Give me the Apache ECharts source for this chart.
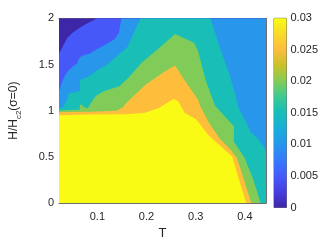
<!DOCTYPE html>
<html><head><meta charset="utf-8">
<script src="https://cdn.jsdelivr.net/npm/echarts@6/dist/echarts.min.js"></script>
<style>html,body{margin:0;padding:0;background:#fff}#c{width:327px;height:245px}</style>
</head><body><div id="c"></div>
<script>
// ---- data ----
const tRange = [0.022, 0.443];
const hRange = [0, 2];
const xTicks = [0.1, 0.2, 0.3, 0.4];
const xTickLabels = ['0.1', '0.2', '0.3', '0.4'];
const yTicks = [0, 0.5, 1, 1.5, 2];
const yTickLabels = ['0', '0.5', '1', '1.5', '2'];
const cbTicks = [0, 0.005, 0.01, 0.015, 0.02, 0.025, 0.03];
const cbTickLabels = ['0', '0.005', '0.01', '0.015', '0.02', '0.025', '0.03'];
const levels = [0, 0.005, 0.01, 0.015, 0.02, 0.025, 0.03];

// contour boundaries [T, H]: region below each curve has value >= level
const edge000 = [[0.022, 2], [0.443, 2]];
const edge005 = [[0.022,1.615],[0.030,1.70],[0.039,1.79],[0.049,1.84],[0.062,1.89],[0.074,1.93],[0.087,1.965],[0.100,2],[0.443,2]];
const edge010 = [[0.022,1.21],[0.026,1.28],[0.033,1.37],[0.039,1.42],[0.046,1.46],[0.052,1.49],[0.059,1.51],[0.061,1.545],[0.065,1.577],[0.071,1.598],[0.084,1.615],[0.088,1.633],[0.100,1.668],[0.119,1.721],[0.135,1.774],[0.144,1.845],[0.149,2],[0.443,2]];
const edge015 = [[0.022,1.031],[0.030,1.034],[0.033,1.070],[0.039,1.123],[0.042,1.192],[0.049,1.192],[0.0585,1.21],[0.0648,1.21],[0.0648,1.334],[0.0744,1.351],[0.0873,1.387],[0.0999,1.440],[0.1191,1.493],[0.1397,1.591],[0.1608,1.686],[0.1742,1.845],[0.1877,2],[0.330,2],[0.349,1.683],[0.368,1.401],[0.380,1.189],[0.387,1.031],[0.403,0.872],[0.412,0.766],[0.426,0.703],[0.439,0.608],[0.443,0.555]];
const edge020 = [[0.022,1.002],[0.038,1.004],[0.059,1.010],[0.064,1.010],[0.0648,1.070],[0.0725,1.041],[0.0807,1.023],[0.0873,1.087],[0.0969,1.158],[0.1128,1.210],[0.1449,1.263],[0.1627,1.353],[0.191,1.524],[0.2228,1.665],[0.2581,1.831],[0.2965,1.736],[0.3048,1.647],[0.3201,1.330],[0.3393,1.052],[0.3777,0.830],[0.3777,0.661],[0.3989,0.492],[0.4161,0.270],[0.4321,0]];
const edge025 = [[0.022,0.983],[0.086,0.988],[0.1384,0.999],[0.1513,1.034],[0.1589,1.083],[0.1973,1.277],[0.2357,1.419],[0.2581,1.488],[0.2773,1.330],[0.3048,1.118],[0.309,1.052],[0.3265,0.872],[0.3489,0.696],[0.3714,0.573],[0.3841,0.484],[0.3969,0.273],[0.4129,0]];
const edge030 = [[0.022,0.951],[0.086,0.957],[0.1589,0.962],[0.1973,0.978],[0.2261,1.031],[0.2549,1.126],[0.2645,1.101],[0.2773,0.978],[0.3009,0.907],[0.3265,0.732],[0.3522,0.608],[0.3745,0.502],[0.381,0.378],[0.3969,0.097],[0.4027,0]];
const edges = [edge000, edge005, edge010, edge015, edge020, edge025, edge030];

// ---- styles ----
const bandColors = ['rgb(62,38,168)','rgb(71,88,248)','rgb(39,150,235)','rgb(25,191,182)','rgb(129,204,89)','rgb(254,190,60)','rgb(249,251,21)'];
const parulaStops = [[0,'rgb(62,38,168)'],[5,'rgb(70,60,222)'],[10,'rgb(71,88,248)'],[15,'rgb(56,117,254)'],[21,'rgb(39,150,235)'],[26,'rgb(24,173,219)'],[32,'rgb(25,191,182)'],[37,'rgb(63,202,142)'],[42,'rgb(129,204,89)'],[47,'rgb(197,194,42)'],[53,'rgb(254,190,60)'],[58,'rgb(247,220,42)'],[63,'rgb(249,251,21)']];
const FONT = 'Liberation Sans';
const TXT = '#262626';
const AX = '#6e6e6e';

const chart = echarts.init(document.getElementById('c'), null, {renderer: 'canvas'});
const tick = {show: true, inside: true, length: 3, lineStyle: {color: AX}};
const line = {show: true, onZero: false, lineStyle: {color: AX, width: 1}};

const series = edges.map((d, i) => ({
  type: 'line', xAxisIndex: 0, yAxisIndex: 0, data: d,
  showSymbol: false, symbol: 'none', silent: true, animation: false,
  lineStyle: {width: 0, color: bandColors[i]},
  areaStyle: {color: bandColors[i], opacity: 1, origin: 'start'},
  z: 2 + i
}));
series.push({
  type: 'bar', xAxisIndex: 2, yAxisIndex: 2, data: [levels[levels.length - 1]],
  barWidth: '100%', silent: true, animation: false,
  itemStyle: {color: new echarts.graphic.LinearGradient(0, 1, 0, 0,
    parulaStops.map(s => ({offset: s[0] / 63, color: s[1]})))}
});

chart.setOption({
  animation: false,
  textStyle: {fontFamily: FONT},
  grid: [
    {left: 46.7, top: 18.3, width: 219.3, height: 189.2},
    {left: 274, top: 18.3, width: 12.5, height: 189.2, show: true, borderColor: AX, borderWidth: 1, backgroundColor: 'transparent'}
  ],
  xAxis: [
    {gridIndex: 0, type: 'value', min: tRange[0], max: tRange[1], position: 'bottom',
     axisLine: line, splitLine: {show: false},
     axisTick: Object.assign({customValues: xTicks}, tick),
     axisLabel: {customValues: xTicks, color: TXT, fontSize: 11, fontFamily: FONT, margin: 8,
       formatter: v => xTickLabels[xTicks.findIndex(t => Math.abs(t - v) < 1e-6)]},
     name: 'T', nameLocation: 'middle', nameGap: 24,
     nameTextStyle: {color: TXT, fontSize: 13, fontFamily: FONT}},
    {gridIndex: 0, type: 'value', min: tRange[0], max: tRange[1], position: 'top',
     axisLine: line, splitLine: {show: false},
     axisTick: Object.assign({customValues: xTicks}, tick), axisLabel: {show: false}},
    {gridIndex: 1, type: 'category', data: ['cb'], axisLine: {show: false}, axisTick: {show: false}, axisLabel: {show: false}}
  ],
  yAxis: [
    {gridIndex: 0, type: 'value', min: hRange[0], max: hRange[1], interval: 0.5, position: 'left',
     axisLine: line, splitLine: {show: false}, axisTick: tick,
     axisLabel: {color: TXT, fontSize: 11, fontFamily: FONT, margin: 5,
       formatter: v => yTickLabels[yTicks.findIndex(t => Math.abs(t - v) < 1e-6)]},
     name: '{n|H/H}{s|c2}{n|(σ=0)}', nameLocation: 'middle', nameGap: 36, nameRotate: 90,
     nameTextStyle: {color: TXT, fontFamily: FONT, rich: {
       n: {fontSize: 12, fontFamily: FONT, color: TXT, lineHeight: 18, verticalAlign: 'middle'},
       s: {fontSize: 8, fontFamily: FONT, color: TXT, lineHeight: 9, verticalAlign: 'bottom'}}}},
    {gridIndex: 0, type: 'value', min: hRange[0], max: hRange[1], interval: 0.5, position: 'right',
     axisLine: line, splitLine: {show: false}, axisTick: tick, axisLabel: {show: false}},
    {gridIndex: 1, type: 'value', min: cbTicks[0], max: cbTicks[cbTicks.length - 1], position: 'right',
     axisLine: {show: false}, splitLine: {show: false},
     axisTick: Object.assign({customValues: cbTicks}, tick),
     axisLabel: {customValues: cbTicks, color: TXT, fontSize: 11, fontFamily: FONT, margin: 4,
       formatter: v => cbTickLabels[cbTicks.findIndex(t => Math.abs(t - v) < 1e-9)]}}
  ],
  series: series
});
</script>
</body></html>
